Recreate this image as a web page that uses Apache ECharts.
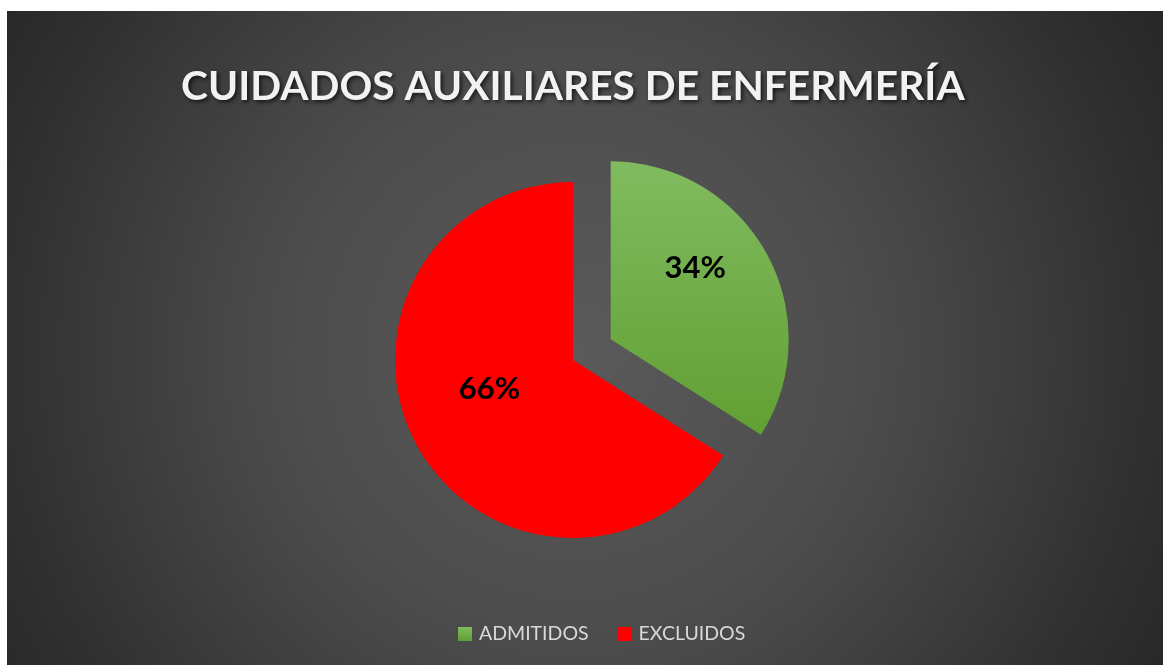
<!DOCTYPE html>
<html>
<head>
<meta charset="utf-8">
<script src="https://cdn.jsdelivr.net/npm/echarts@6/dist/echarts.min.js"></script>
<style>
  html, body { margin: 0; padding: 0; background: #fff; }
  #container { position: absolute; left: 7px; top: 11px; width: 1156px; height: 654px; }
</style>
</head>
<body>
<div id="container"></div>
<script>
var titleText = 'CUIDADOS AUXILIARES DE ENFERMERÍA';
var categories = ['ADMITIDOS', 'EXCLUIDOS'];
var values = [34, 66];

var dom = document.getElementById('container');
var myChart = echarts.init(dom);

var sliceColors = [
    new echarts.graphic.LinearGradient(0, 0, 0, 1, [
        { offset: 0, color: '#81bb5f' },
        { offset: 1, color: '#61a033' }
    ]),
    '#ff0000'
];

// small nudges so the labels sit where Excel put them
var labelNudge = [[4, -27], [-3, -15]];

var data = categories.map(function (name, i) {
    return {
        name: name,
        value: values[i],
        selected: i === 0,
        itemStyle: { color: sliceColors[i] }
    };
});

var option = {
    backgroundColor: new echarts.graphic.RadialGradient(567, 340, 690, [
        { offset: 0, color: '#5a5a5a' },
        { offset: 0.4, color: '#4d4d4d' },
        { offset: 0.52, color: '#464646' },
        { offset: 0.83, color: '#303030' },
        { offset: 1, color: '#262626' }
    ], true),
    title: {
        text: titleText,
        left: 169,
        top: 50,
        textStyle: {
            color: '#f2f2f2',
            fontFamily: 'Lato',
            fontWeight: 'bold',
            fontSize: 40.7,
            textShadowColor: 'rgba(0,0,0,0.7)',
            textShadowBlur: 4,
            textShadowOffsetX: 2,
            textShadowOffsetY: 2
        }
    },
    legend: {
        data: categories,
        bottom: 16,
        left: 446,
        itemWidth: 14,
        itemHeight: 14,
        itemGap: 29,
        icon: 'rect',
        textStyle: {
            color: '#d9d9d9',
            fontFamily: 'Lato',
            fontSize: 19.5,
            padding: [0, 0, 0, 2]
        }
    },
    series: [
        {
            name: titleText,
            type: 'pie',
            center: [566, 349],
            radius: 178,
            startAngle: 90,
            clockwise: true,
            selectedMode: 'single',
            selectedOffset: 43,
            animation: false,
            data: data,
            label: {
                show: true,
                position: 'inside',
                formatter: '{d}%',
                color: '#000',
                fontFamily: 'Lato',
                fontWeight: 'bold',
                fontSize: 31
            },
            labelLayout: function (params) {
                var n = labelNudge[params.dataIndex];
                return { dx: n[0], dy: n[1] };
            },
            labelLine: { show: false },
            emphasis: { disabled: true }
        }
    ]
};

myChart.setOption(option);
</script>
</body>
</html>
